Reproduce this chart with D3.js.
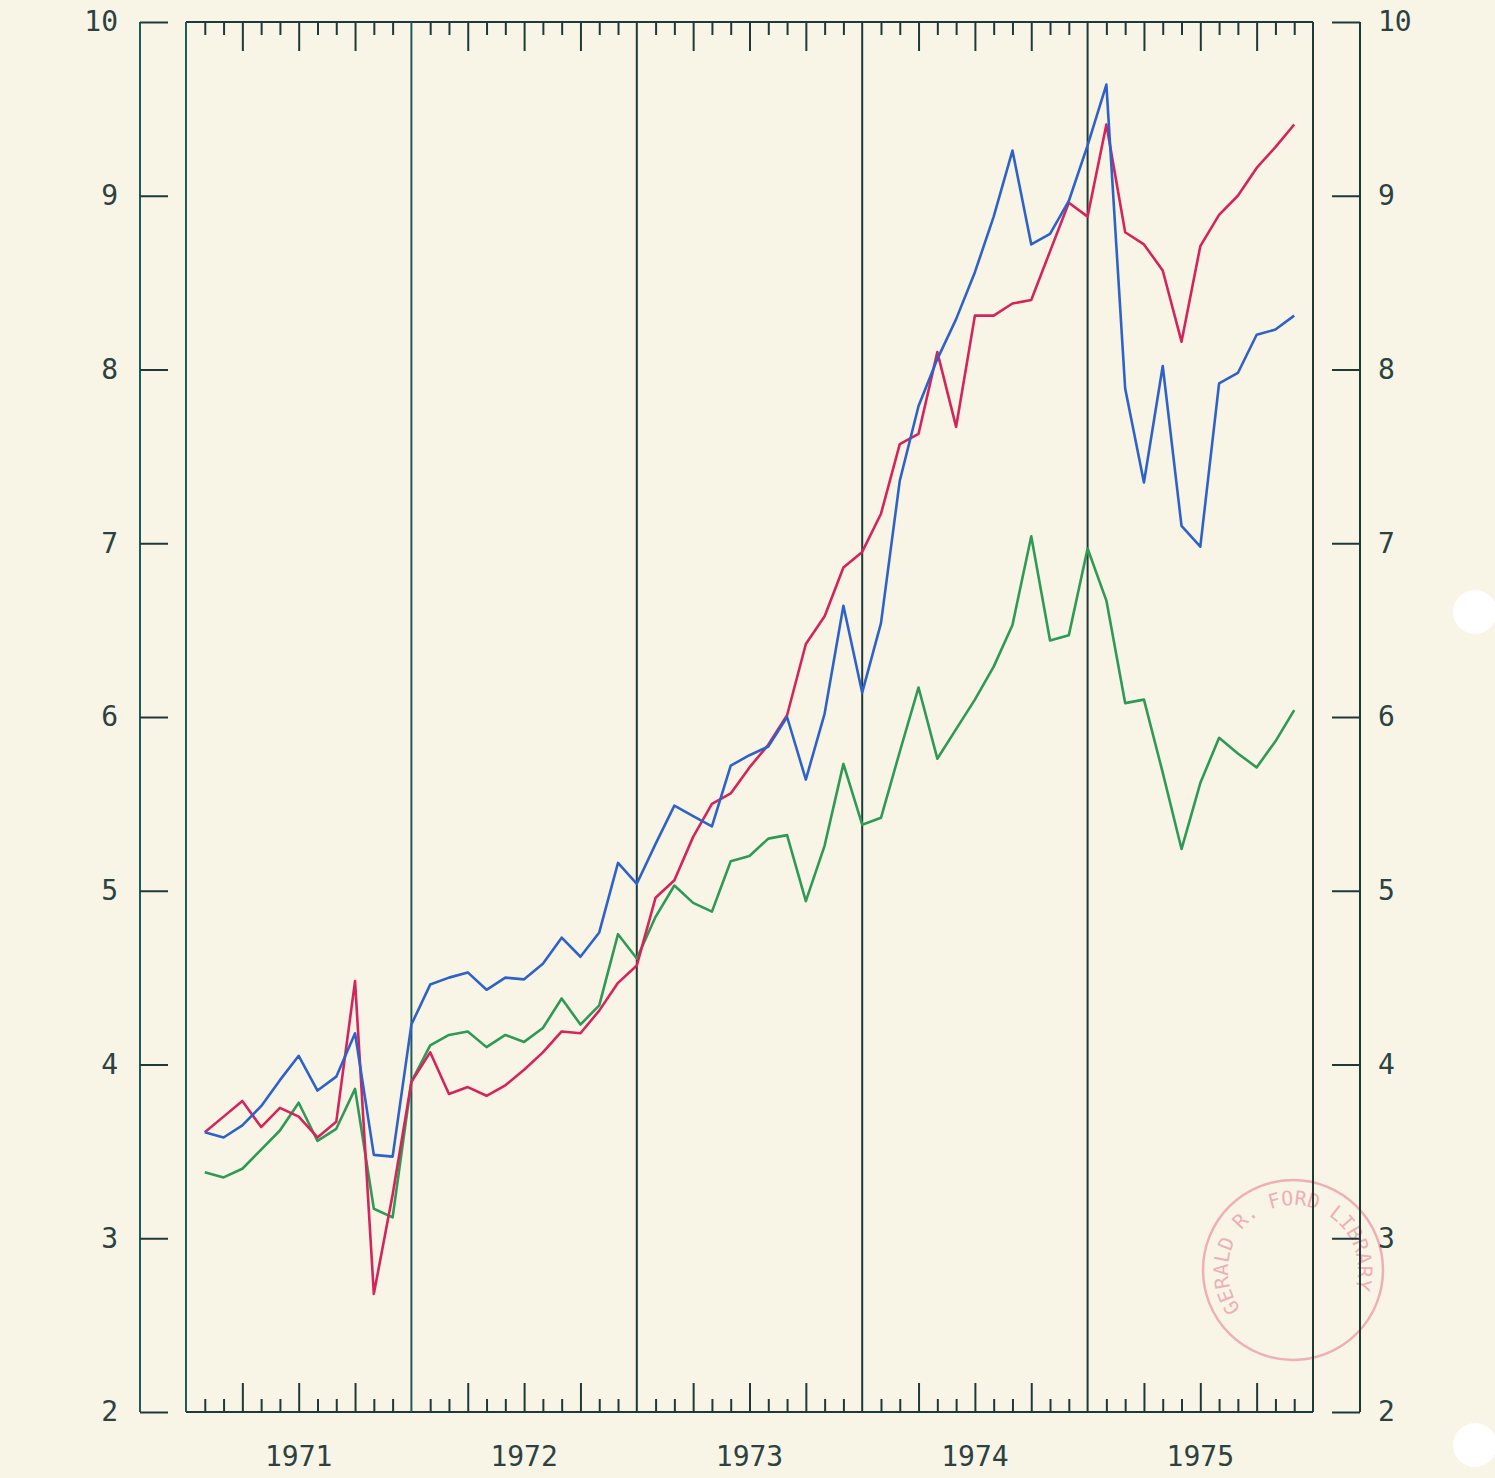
<!DOCTYPE html>
<html>
<head>
<meta charset="utf-8">
<script src="https://cdn.jsdelivr.net/npm/d3@7"></script>
<style>
  body { margin: 0; background: #f8f5e7; }
  svg { display: block; }
</style>
</head>
<body>
<div class="canvas"></div>
<script>
// monthly values, Feb 1971 .. Dec 1975 (month index 1..59)
const years = ['1971', '1972', '1973', '1974', '1975']
const yTicks = [2, 3, 4, 5, 6, 7, 8, 9, 10]

const redSeries = [
    3.61, 3.70, 3.79, 3.64, 3.75, 3.70, 3.58, 3.67, 4.48, 2.68, 3.25, 3.90,
    4.07, 3.83, 3.87, 3.82, 3.88, 3.97, 4.07, 4.19, 4.18, 4.31, 4.47, 4.57,
    4.96, 5.06, 5.31, 5.50, 5.56, 5.71, 5.84, 6.01, 6.42, 6.58, 6.86, 6.95,
    7.17, 7.57, 7.63, 8.10, 7.67, 8.31, 8.31, 8.38, 8.40, 8.68, 8.96, 8.88,
    9.41, 8.79, 8.72, 8.57, 8.16, 8.71, 8.89, 9.00, 9.16, 9.28, 9.41
]
const blueSeries = [
    3.61, 3.58, 3.65, 3.76, 3.91, 4.05, 3.85, 3.93, 4.18, 3.48, 3.47, 4.23,
    4.46, 4.50, 4.53, 4.43, 4.50, 4.49, 4.58, 4.73, 4.62, 4.76, 5.16, 5.04,
    5.27, 5.49, 5.43, 5.37, 5.72, 5.78, 5.83, 6.00, 5.64, 6.02, 6.64, 6.14,
    6.54, 7.36, 7.79, 8.06, 8.29, 8.56, 8.88, 9.26, 8.72, 8.78, 8.97, 9.29,
    9.64, 7.89, 7.35, 8.02, 7.10, 6.98, 7.92, 7.98, 8.20, 8.23, 8.31
]
const greenSeries = [
    3.38, 3.35, 3.40, 3.51, 3.62, 3.78, 3.56, 3.63, 3.86, 3.17, 3.12, 3.90,
    4.11, 4.17, 4.19, 4.10, 4.17, 4.13, 4.21, 4.38, 4.23, 4.34, 4.75, 4.61,
    4.85, 5.03, 4.93, 4.88, 5.17, 5.20, 5.30, 5.32, 4.94, 5.26, 5.73, 5.38,
    5.42, 5.80, 6.17, 5.76, 5.93, 6.10, 6.29, 6.53, 7.04, 6.44, 6.47, 6.97,
    6.67, 6.08, 6.10, 5.68, 5.24, 5.62, 5.88, 5.79, 5.71, 5.86, 6.04
]

const W = 1495, H = 1478
const box = { left: 186, right: 1313, top: 22, bottom: 1412 }
const ink = '#1f3838'
const textInk = '#2b4240'
const font = '"DejaVu Sans Mono", monospace'

const svg = d3.select('.canvas').append('svg').attr('width', W).attr('height', H)
svg.append('rect').attr('width', W).attr('height', H).attr('fill', '#f8f5e7')

const x = d3.scaleLinear().domain([0, 60]).range([box.left, box.right])
const y = d3.scaleLinear().domain([2, 10]).range([box.bottom, box.top])

// library stamp (drawn first so it sits under the axis)
const stamp = svg.append('g').attr('transform', 'translate(1293,1270)').attr('opacity', 0.5)
stamp.append('circle').attr('r', 90).attr('fill', 'none').attr('stroke', '#e56b84').attr('stroke-width', 2.5)
stamp.append('path').attr('id', 'stampArc').attr('fill', 'none')
    .attr('d', 'M -46,46 A 65,65 0 1 1 46,46')
stamp.append('text').attr('fill', '#e56b84')
    .style('font-family', font).style('font-size', '20px')
    .append('textPath').attr('href', '#stampArc').attr('startOffset', '3%')
    .text('GERALD R. FORD LIBRARY')

// y axes outside the box
const leftAxis = svg.append('g').attr('transform', 'translate(140,0)')
    .call(d3.axisRight(y).tickValues(yTicks).tickSize(28).tickFormat(d3.format('d')))
leftAxis.selectAll('text').attr('x', -22).attr('text-anchor', 'end')

const rightAxis = svg.append('g').attr('transform', 'translate(1360,0)')
    .call(d3.axisLeft(y).tickValues(yTicks).tickSize(28).tickFormat(d3.format('d')))
rightAxis.selectAll('text').attr('x', 18).attr('text-anchor', 'start')

svg.selectAll('.tick line, .domain').attr('stroke', ink).attr('stroke-width', 2)
svg.selectAll('.domain').attr('d', `M0,${box.top}V${box.bottom}`)
leftAxis.select('.domain').attr('stroke', '#1f5a58')
svg.selectAll('.tick text').attr('fill', textInk).style('font-family', font).style('font-size', '28px')

// month ticks on the top and bottom edges
const months = d3.range(1, 60).filter(m => m % 12 !== 0)
const shortM = months.filter(m => m % 3 !== 0)
const longM = months.filter(m => m % 3 === 0)

const topShort = svg.append('g').attr('transform', `translate(0,${box.top})`)
    .call(d3.axisBottom(x).tickValues(shortM).tickSize(13).tickFormat(''))
const topLong = svg.append('g').attr('transform', `translate(0,${box.top})`)
    .call(d3.axisBottom(x).tickValues(longM).tickSize(29).tickFormat(''))
const botShort = svg.append('g').attr('transform', `translate(0,${box.bottom})`)
    .call(d3.axisTop(x).tickValues(shortM).tickSize(13).tickFormat(''))
const botLong = svg.append('g').attr('transform', `translate(0,${box.bottom})`)
    .call(d3.axisTop(x).tickValues(longM).tickSize(29).tickFormat(''))

;[topShort, topLong, botShort, botLong].forEach(g => {
    g.select('.domain').remove()
    g.selectAll('line').attr('stroke', ink).attr('stroke-width', 2)
})

// box and year dividers
svg.append('line').attr('x1', box.left).attr('x2', box.right).attr('y1', box.top).attr('y2', box.top)
    .attr('stroke', ink).attr('stroke-width', 2)
svg.append('line').attr('x1', box.left).attr('x2', box.right).attr('y1', box.bottom).attr('y2', box.bottom)
    .attr('stroke', ink).attr('stroke-width', 2)
svg.selectAll('.divider').data(d3.range(0, 61, 12)).enter().append('line')
    .attr('class', 'divider')
    .attr('x1', d => x(d)).attr('x2', d => x(d))
    .attr('y1', box.top).attr('y2', box.bottom)
    .attr('stroke', (d, i) => i === 0 || i === 1 ? '#1f5a58' : ink)
    .attr('stroke-width', 2)

// year labels
svg.selectAll('.year').data(years).enter().append('text')
    .attr('class', 'year')
    .attr('x', (d, i) => x(6 + i * 12))
    .attr('y', 1466)
    .attr('text-anchor', 'middle')
    .attr('fill', textInk)
    .style('font-family', font)
    .style('font-size', '28px')
    .text(d => d)

// series lines
const line = d3.line().x((d, i) => x(i + 1)).y(d => y(d))
const series = [
    { values: greenSeries, color: '#2e9a55' },
    { values: redSeries, color: '#d4245c' },
    { values: blueSeries, color: '#2f62c9' }
]
svg.selectAll('.series').data(series).enter().append('path')
    .attr('class', 'series')
    .attr('d', d => line(d.values))
    .attr('fill', 'none')
    .attr('stroke', d => d.color)
    .attr('stroke-width', 2.6)
    .attr('stroke-linejoin', 'round')

// punch holes
svg.selectAll('.hole').data([612, 1445]).enter().append('circle')
    .attr('cx', 1475).attr('cy', d => d).attr('r', 22)
    .attr('fill', '#ffffff')
</script>
</body>
</html>
